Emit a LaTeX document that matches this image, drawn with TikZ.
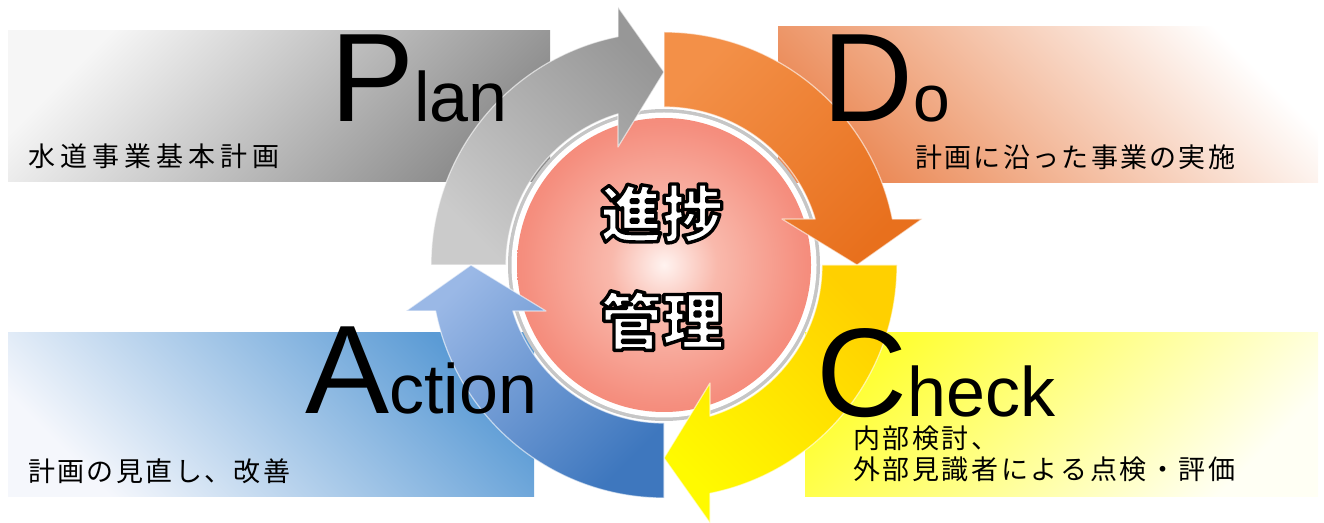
\documentclass[tikz,border=0pt]{standalone}
\usepackage{fontspec}
\newfontfamily\arialf{Liberation Sans}
\newfontfamily\jpf{Noto Sans CJK JP}
\usetikzlibrary{calc}
\definecolor{planlight}{HTML}{F6F6F6}
\definecolor{plandark}{HTML}{8C8C8C}
\definecolor{dolight}{HTML}{FFFFFF}
\definecolor{dodark}{HTML}{EB8A57}
\definecolor{actblue}{HTML}{5B9BD5}
\definecolor{actlight}{HTML}{F5F7FC}
\definecolor{chkyellow}{HTML}{FFFF33}
\definecolor{chklight}{HTML}{FFFFF4}
\definecolor{grayA}{HTML}{CBCBCB}
\definecolor{grayB}{HTML}{979797}
\definecolor{orA}{HTML}{F39048}
\definecolor{orB}{HTML}{E8701D}
\definecolor{yeA}{HTML}{FFD000}
\definecolor{yeB}{HTML}{FFFA00}
\definecolor{blA}{HTML}{9AB8E6}
\definecolor{blB}{HTML}{3E77BE}
\definecolor{c0}{HTML}{FFF3F0}
\definecolor{c1}{HTML}{F9B9AC}
\definecolor{c2}{HTML}{F58E7E}
\definecolor{c3}{HTML}{F47A68}
\pgfdeclareradialshading{ballshade}{\pgfpoint{0bp}{0bp}}{color(0bp)=(c0); color(9bp)=(c1); color(24bp)=(c2); color(36bp)=(c3); color(50bp)=(c3)}
\makeatletter
\def\myspc#1#2{\def\my@w{#1}\my@loop#2\relax}
\def\my@loop#1{\ifx\relax#1\else\makebox[\my@w][l]{#1}\expandafter\my@loop\fi}
\makeatother
\newcommand\outlinetext[1]{\color{white}\special{pdf:literal direct 0 0 0 RG 2 Tr 3.4 w 1 j}#1\special{pdf:literal direct 0 Tr 1 w}}
\newcommand\cyclearrow[1]{(90+#1:158) -- (90+#1:233) arc[start angle=90+#1, end angle=11.385+#1, radius=233] -- (10.11+#1:262.07) -- (#1:193) -- (21.30+#1:126.65) -- (16.93+#1:158) arc[start angle=16.93+#1, end angle=90+#1, radius=158] -- cycle}
\begin{document}
\begin{tikzpicture}[x=1pt,y=1pt,
  bigl/.style={anchor=base west, inner sep=0pt, text depth=0pt, font=\arialf},
  jptext/.style={anchor=west, inner sep=0pt, font=\jpf\fontsize{27}{32}\selectfont},
  centr/.style={inner sep=0pt, font=\jpf\bfseries\fontsize{62}{62}\selectfont},
  bevel/.style={draw=white, draw opacity=0.6, line width=1.2pt, line join=round}]
\useasboundingbox (0,0) rectangle (1324,522);
% banners
\shade[top color=planlight, bottom color=plandark, shading angle=45] (8,340) rectangle (550,491);
\shade[top color=dolight, bottom color=dodark, shading angle=-45] (778,339) rectangle (1318,495);
\shade[top color=actblue, bottom color=actlight, shading angle=-45] (8,26) rectangle (534,189);
\shade[top color=chkyellow, bottom color=chklight, shading angle=45] (805,26) rectangle (1318,189);
% centre disc
\coordinate (C) at (664,257);
\fill[gray!45] (C) circle (156);
\fill[white] (C) circle (152.5);
\shade[shading=ballshade] (C) circle (147);
% cycle arrows
\begin{scope}[shift={(664,257)}]
\shade[top color=grayB, bottom color=grayA, shading angle=-45] \cyclearrow{90};
\draw[bevel] \cyclearrow{90};
\shade[top color=orA, bottom color=orB, shading angle=45] \cyclearrow{0};
\draw[bevel] \cyclearrow{0};
\shade[top color=yeA, bottom color=yeB, shading angle=-45] \cyclearrow{-90};
\draw[bevel] \cyclearrow{-90};
\shade[top color=blA, bottom color=blB, shading angle=45] \cyclearrow{180};
\draw[bevel] \cyclearrow{180};
\end{scope}
% big words
\node[bigl] (plan) at (330,400) {\fontsize{126}{126}\selectfont P\fontsize{70}{70}\selectfont lan};
\node[bigl] (do) at (822,400) {\fontsize{126}{126}\selectfont D\fontsize{66}{66}\selectfont o};
\node[bigl] (act) at (305,109) {\fontsize{126}{126}\selectfont A\fontsize{70}{70}\selectfont ction};
\node[bigl] (chk) at (816,106) {\fontsize{126}{126}\selectfont C\fontsize{70}{70}\selectfont heck};
% descriptions
\node[jptext] (plantx) at (28,366) {\myspc{32pt}{水道事業基本計画}};
\node[jptext] (dotx) at (915,365) {\myspc{29.3pt}{計画に沿った事業の実施}};
\node[jptext] (acttx) at (28,51) {\myspc{29.4pt}{計画の見直し、改善}};
\node[jptext] (chktx1) at (853,84) {\myspc{29.6pt}{内部検討、}};
\node[jptext] (chktx2) at (853,53) {\myspc{29.6pt}{外部見識者による点検・評価}};
% centre title with outline
\node[centr] (title1) at (662,308.5) {\outlinetext{進捗}};
\node[centr] (title2) at (662,201.5) {\outlinetext{管理}};
\end{tikzpicture}
\end{document}
